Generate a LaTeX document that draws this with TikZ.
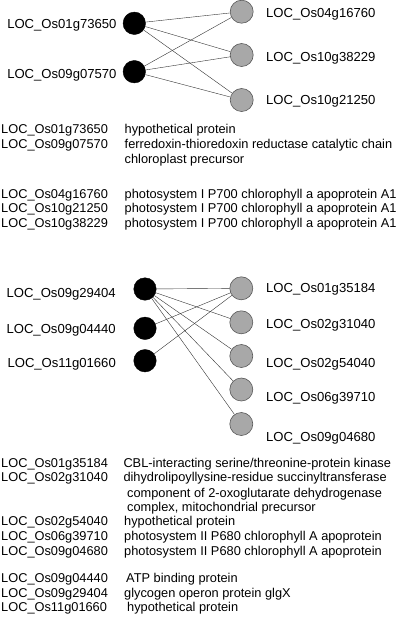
\documentclass[tikz,border=0pt]{standalone}
\usepackage{fontspec}
\setmainfont{Liberation Sans}
\usepackage{tikz}

\begin{document}
\begin{tikzpicture}[x=1pt, y=-1pt, thin,
	black node/.style={circle,draw=black,fill=black,minimum size=22.5pt,inner sep=0pt},
	gray node/.style={circle,draw=black!65,fill=black!34,minimum size=23pt,inner sep=0pt,line width=0.6pt},
	lbl/.style={font=\fontsize{13.1}{15}\selectfont,inner sep=0pt,text height=9.4pt,text depth=0pt},
	txt/.style={font=\fontsize{12.8}{15}\selectfont,inner sep=0pt,text height=9.2pt,text depth=0pt,anchor=west}]
	
	\useasboundingbox (0,0) rectangle (400,630);
	
	% first network
	\node[black node] (1) at (134.3,23.3) {};
	\node[black node] (2) at (134.3,71.7) {};
	\node[gray node] (3) at (241.7,11.7) {};
	\node[gray node] (4) at (241.7,55) {};
	\node[gray node] (5) at (241.7,100) {};
	
	\node[lbl,anchor=east] (l1) at (116.7,24) {LOC\_Os01g73650};
	\node[lbl,anchor=east] (l2) at (116.7,74) {LOC\_Os09g07570};
	\node[lbl,anchor=west] (l3) at (266,12.7) {LOC\_Os04g16760};
	\node[lbl,anchor=west] (l4) at (266,56.7) {LOC\_Os10g38229};
	\node[lbl,anchor=west] (l5) at (266,100) {LOC\_Os10g21250};
	
	\path[draw=black!80]
	(1) edge (3)
	(1) edge (4)
	(1) edge (5)
	(2) edge (3)
	(2) edge (4)
	(2) edge (5);
	
	% first annotation
	\node[txt] (i1) at (1,129) {LOC\_Os01g73650};
	\node[txt] (d1) at (124.5,129) {hypothetical protein};
	\node[txt] (i2) at (1,144) {LOC\_Os09g07570};
	\node[txt] (d2) at (124.5,144) {ferredoxin-thioredoxin reductase catalytic chain};
	\node[txt] (d2b) at (124.5,158.5) {chloroplast precursor};
	\node[txt] (i3) at (1,194) {LOC\_Os04g16760};
	\node[txt] (d3) at (124.5,194) {photosystem I P700 chlorophyll a apoprotein A1};
	\node[txt] (i4) at (1,208) {LOC\_Os10g21250};
	\node[txt] (d4) at (124.5,208) {photosystem I P700 chlorophyll a apoprotein A1};
	\node[txt] (i5) at (1,222.5) {LOC\_Os10g38229};
	\node[txt] (d5) at (124.5,222.5) {photosystem I P700 chlorophyll a apoprotein A1};
	
	% second network
	\node[black node] (6) at (145,289) {};
	\node[black node] (7) at (145,328.3) {};
	\node[black node] (8) at (145,360.7) {};
	\node[gray node] (9) at (241.3,288.3) {};
	\node[gray node] (10) at (241.3,322.3) {};
	\node[gray node] (11) at (241.3,356) {};
	\node[gray node] (12) at (241.3,389.5) {};
	\node[gray node] (13) at (241.3,424) {};
	
	\node[lbl,anchor=east] (l6) at (116,292.7) {LOC\_Os09g29404};
	\node[lbl,anchor=east] (l7) at (116,329) {LOC\_Os09g04440};
	\node[lbl,anchor=east] (l8) at (116,363) {LOC\_Os11g01660};
	\node[lbl,anchor=west] (l9) at (266,287.5) {LOC\_Os01g35184};
	\node[lbl,anchor=west] (l10) at (266,324) {LOC\_Os02g31040};
	\node[lbl,anchor=west] (l11) at (266,362.3) {LOC\_Os02g54040};
	\node[lbl,anchor=west] (l12) at (266,396.7) {LOC\_Os06g39710};
	\node[lbl,anchor=west] (l13) at (266,436.7) {LOC\_Os09g04680};
	
	\path[draw=black!80]
	(6) edge (9)
	(6) edge (10)
	(6) edge (11)
	(6) edge (12)
	(6) edge (13)
	(7) edge (9)
	(8) edge (9);
	
	% second annotation
	\node[txt] (i6) at (1,463) {LOC\_Os01g35184};
	\node[txt] (d6) at (123.3,463) {CBL-interacting serine/threonine-protein kinase};
	\node[txt] (i7) at (1,477.3) {LOC\_Os02g31040};
	\node[txt] (d7) at (123.3,477.3) {dihydrolipoyllysine-residue succinyltransferase};
	\node[txt] (d7b) at (127,492.7) {component of 2-oxoglutarate dehydrogenase};
	\node[txt] (d7c) at (127,506.7) {complex, mitochondrial precursor};
	\node[txt] (i8) at (1,521) {LOC\_Os02g54040};
	\node[txt] (d8) at (124,521) {hypothetical protein};
	\node[txt] (i9) at (1,536) {LOC\_Os06g39710};
	\node[txt] (d9) at (124,536) {photosystem II P680 chlorophyll A apoprotein};
	\node[txt] (i10) at (1,550.7) {LOC\_Os09g04680};
	\node[txt] (d10) at (124,550.7) {photosystem II P680 chlorophyll A apoprotein};
	\node[txt] (i11) at (1,577.7) {LOC\_Os09g04440};
	\node[txt] (d11) at (126,577.7) {ATP binding protein};
	\node[txt] (i12) at (1,592.7) {LOC\_Os09g29404};
	\node[txt] (d12) at (124,592.7) {glycogen operon protein glgX};
	\node[txt] (i13) at (1,606.7) {LOC\_Os11g01660};
	\node[txt] (d13) at (127,606.7) {hypothetical protein};
\end{tikzpicture}
\end{document}
